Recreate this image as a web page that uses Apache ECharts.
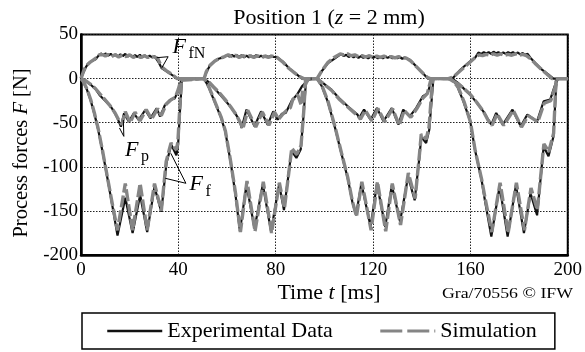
<!DOCTYPE html>
<html><head><meta charset="utf-8">
<script src="https://cdn.jsdelivr.net/npm/echarts@6/dist/echarts.min.js"></script>
<style>html,body{margin:0;padding:0;background:#fff}#c{width:585px;height:352px}</style>
</head><body><div id="c"></div>
<script>
// ---------- data (time t [ms], force F [N]) ----------
const xTicks = [0, 40, 80, 120, 160, 200];
const yTicks = [-200, -150, -100, -50, 0, 50];

const expFfN = [
  [0,0],[1,7],[2,13],[3,17],[4.5,20],[6,22],[7.2,26],[8.2,28.5],[9.2,26.5],[10.2,28.5],[11.2,26],[12.2,28],[13.2,25.5],[14.2,27.5],[15.2,25],[16.2,27.5],[17.2,25.5],[18.2,28],[19.2,25],[20.2,27],[21.2,24.5],[22.2,26.5],[23.2,24.5],[24.2,27],[25.2,24],[26.2,26.5],[27.2,24],[28.2,26],[29.2,24],[30.2,25.5],[31,24],[32,18],[33.1,12],[35,8.5],[37.5,4],[39.8,0],
  [50.6,0],[51.5,7],[52.8,14],[54.5,19],[56.5,22.5],[58.5,24],[60,26.5],[61,25],[62,27],[63,25],[64,26.5],[65,24.5],[66,26.5],[67,24],[68,26],[69,24],[70,26],[71,24.5],[72,26.5],[73,24.5],[74,26],[75,24],[76,26],[77,24.5],[78,26],[79,24.5],[80.4,24.5],[82.8,19.6],[85.4,12],[88,6.3],[90.8,0],
  [97,0],[98.9,8.3],[101.5,17.7],[104.2,22.6],[106.9,28],[108,25.5],[109,27],[110,24.5],[111,26.5],[112,24],[113,26],[114,23.5],[115,25.5],[116,23.5],[117,25],[118,23],[119,25],[120,23.5],[121,25],[122,23],[123,24.5],[124,23],[125,25],[126,23.5],[127,25],[128,23],[129,24.5],[130,23],[131,24.5],[132,22.5],[133,24],[135.1,21.5],[137.7,13.9],[140.4,6.4],[142.5,0],
  [152.5,0],[154,4],[155.9,10],[157.5,14],[159.9,19.6],[161.9,23.4],[163.3,29.5],[164.5,28],[165.5,30],[166.5,28.5],[167.5,30],[168.5,28],[169.5,30.5],[170.5,28.5],[171.5,30],[172.5,28],[173.5,29.5],[174.5,28],[175.5,30],[176.5,28.5],[177.5,30],[178.5,28],[179.5,29.5],[180.5,27.5],[181.5,29],[182.5,27],[183.5,28],[184.7,23.4],[186.7,17.7],[189.4,10.1],[192.1,4.5],[194.1,0],[200,0]
];
const simFfN = [
  [0,0],[1,8],[2,14],[3.5,18],[5,21],[6.5,24],[7.5,27],[9,27],[10,25.5],[11,27.5],[12.5,25],[14,27],[15.5,24.5],[17,26.5],[18.5,25],[20,27],[21.5,24],[23,26],[24.5,24],[26,26],[27.5,24],[29,25.5],[30.5,24],[31.5,23],[32.5,17],[33.5,12.5],[35.5,8],[37.5,4.5],[39.5,0],
  [50.6,0],[51.5,8],[53,15],[55,20],[57,23],[59,25],[60.5,27],[62,25],[63.5,26.5],[65,24],[66.5,26],[68,24.5],[69.5,26],[71,24],[72.5,26],[74,24],[75.5,25.5],[77,24],[78.5,25.5],[80.5,24],[83,18.5],[85.5,11.5],[88,6],[90,2],[91.5,0],
  [97,0],[99,9],[101.5,18.5],[104,24],[106.5,28],[108,27],[109.5,28],[111,26],[112.5,27],[114,25],[115.5,26],[117,24.5],[118.5,26],[120,24],[121.5,25.5],[123,24],[124.5,25.5],[126,24],[127.5,25],[129,23.5],[130.5,25],[132,23],[133.5,23.5],[135.5,20],[138,13],[140.5,6],[142.5,1],[143.5,0],
  [151,0],[153,2],[155.5,8],[158,14],[160,19],[162,24],[163.5,27],[165,26],[166.5,27.5],[168,26.5],[169.5,28],[171,26.5],[172.5,28],[174,26.5],[175.5,27.5],[177,26.5],[178.5,28],[180,26.5],[181.5,27.5],[183,26],[184.5,23],[186.5,17.5],[189,11],[191.5,5],[193.5,0],[200,0]
];
const expFp = [
  [0,0],[2,-3],[4,-7],[6,-12],[7.6,-18.6],[9.5,-24],[11.7,-29.9],[13.5,-37],[15,-45],[16.4,-54.5],[17.7,-39.4],[19.7,-48.8],[21.7,-39.4],[23.7,-46.9],[26.4,-35.6],[28.5,-45],[31.1,-33.7],[32.5,-43.2],[34.5,-29.9],[36.5,-24.3],[38.5,-22.4],[39.8,-14.9],[41.2,-1.6],[41.6,0],
  [50.6,0],[52.5,-4],[54,-9],[55.9,-14.4],[58,-21],[61.3,-31.4],[63.5,-40],[65.3,-48.4],[66,-56],[68,-35.2],[71.3,-54.1],[74,-37.1],[76.7,-52.2],[79,-37.1],[80.8,-46.6],[82.5,-40],[84.1,-39],[86.8,-23.9],[88.8,-18.2],[90.8,-8.8],[93.5,-1.2],[94,0],
  [97,0],[99,-4],[101,-8.5],[102.9,-12.6],[106,-22],[109.6,-31.4],[112,-37],[113.6,-40.8],[114.3,-44.6],[116.3,-35.2],[119,-46.6],[121.6,-33.4],[124.3,-48.4],[127.7,-33.4],[130.4,-52.2],[132.4,-35.2],[135.1,-42.8],[137.7,-33.4],[140.4,-20.2],[142.5,-16.4],[143.8,-3.2],[144.3,0],
  [152.5,0],[154.5,-4],[156.5,-9],[158,-13.5],[159.9,-18.2],[162.5,-27],[165.3,-37.1],[167,-45],[168.6,-52.2],[170.6,-39],[173.3,-52.2],[177.3,-35.2],[180.7,-54.1],[183.4,-40.8],[187.4,-48.4],[190.1,-25.7],[192.8,-23.8],[194.8,-7],[195.9,0],[200,0]
];
const simFp = [
  [0,0],[2,-2.5],[4,-6.5],[6,-11.5],[8,-18],[10,-24.5],[12,-31],[14,-39],[15.5,-47],[16.8,-52],[18.2,-37.5],[20.2,-50],[22.2,-38],[24.2,-48],[26.8,-35],[29,-46],[31.5,-34],[33,-42],[35,-29],[37,-24],[38.8,-21],[40,-12],[41,-2],[41.5,0],
  [50.6,0],[52.5,-3.5],[54.5,-9.5],[56.5,-15],[59,-23],[61.5,-32],[64,-42],[65.8,-52],[66.5,-57],[68.5,-36],[71.8,-55],[74.5,-38],[77.2,-53],[79.5,-38],[81.2,-46],[83,-40],[84.5,-36],[86,-33],[87,-24],[89,-18],[90.5,-30],[91,-15],[92.5,-5],[93.5,0],
  [97,0],[99,-4.5],[101,-9],[103,-13.5],[106,-23],[109.5,-32],[112,-38],[114,-43],[114.8,-46],[116.8,-36],[119.5,-48],[122,-34],[124.8,-49],[128,-34],[130.8,-53],[132.8,-36],[135.5,-44],[138,-34],[140.5,-22],[142.3,-17],[143.5,-4],[144,0],
  [151,0],[153,-3],[155,-6],[157,-10.5],[160,-18],[162.5,-26.5],[165.5,-38],[167.2,-47],[168.9,-53],[171,-40],[173.7,-53],[177.6,-36],[181,-55],[183.7,-42],[187.7,-49],[190.3,-28],[193,-25],[195,-8],[196,0],[200,0]
];
const expFf = [
  [0,0],[1,-4],[2.5,-13],[4,-25],[5.5,-40],[7,-57],[9,-85],[11,-115],[13,-146],[15,-178],[18.2,-135],[21.2,-175],[24.3,-132],[27.2,-174],[30.2,-123],[33,-151],[35.1,-96],[37.1,-75],[39.2,-87],[39.9,-75],[40.7,-35],[41.5,0],
  [50.6,0],[52.5,-10],[55,-27],[57.5,-44],[59.3,-60],[61.5,-95],[63.5,-132],[65.3,-173],[68,-120],[71.3,-170],[74.7,-120],[78.1,-173],[81.4,-120],[83.4,-149],[86.5,-82],[88.5,-90],[90.3,-80],[91.5,-40],[92.5,0],
  [97,0],[99,-9],[101.5,-27],[104.5,-57],[107,-85],[109.6,-113],[111.5,-140],[113,-155],[115.2,-119],[119,-168],[121.6,-119],[125,-168],[127.7,-121],[131.1,-162],[134.4,-111],[137.1,-138],[139.1,-88],[139.8,-66],[141.8,-73],[143.1,-58],[144.2,-20],[144.8,0],
  [152.5,0],[154.5,-8],[157,-25],[159.9,-48],[161.9,-81],[164.6,-115],[165.9,-137],[168.6,-179],[172,-122],[175.3,-179],[178.7,-121],[182,-175],[184.7,-130],[187.4,-155],[190.1,-77],[192.1,-88],[194.1,-66],[195.4,0],[200,0]
];
const simFf = [
  [0,0],[1,-3.5],[2.5,-12],[4,-24],[5.5,-39],[7,-56],[9,-84],[11,-114],[13,-144],[15,-172],[18.2,-119],[21.2,-172],[24.3,-119],[27.2,-172],[30.2,-119],[33,-150],[35,-94],[37,-73],[39.2,-81],[39.8,-72],[40.6,-33],[41.3,0],
  [50.6,0],[52.5,-9],[55,-26],[57.5,-43],[59.3,-59],[61.5,-94],[63.5,-130],[65.5,-174],[68.2,-116],[71.5,-173],[74.9,-117],[78.3,-175],[81.5,-118],[83.6,-147],[86.6,-79],[88.6,-86],[90.4,-76],[91.5,-38],[92.3,0],
  [97,0],[99,-8],[101.5,-26],[104.5,-56],[107,-84],[109.6,-112],[111.5,-139],[113.2,-156],[115.4,-117],[119.2,-172],[121.8,-117],[125.2,-173],[127.9,-119],[131.3,-166],[134.5,-107],[137.3,-136],[139.1,-85],[139.8,-63],[141.8,-69],[143,-55],[144,-18],[144.5,0],
  [151,0],[153,-3],[155,-10],[157.5,-27],[160,-49],[162,-82],[164.6,-114],[166,-135],[168.8,-174],[172.2,-118],[175.5,-175],[178.9,-118],[182.2,-172],[184.9,-124],[187.5,-149],[190.2,-74],[192.2,-83],[194.2,-62],[195.2,0],[200,0]
];
// leader lines of the annotations, in data coordinates [t, F]
const leaderFfN = [[[35.8,24.8],[31.1,23.7]],[[35.8,24.8],[33.1,11.7]]];
const leaderFp  = [[[17.6,-65.5],[15.8,-56]],[[17.6,-65.5],[17.4,-47]]];
const leaderFf  = [[[43.1,-118.7],[36.9,-84.7]],[[43.1,-118.7],[34.6,-113]]];
// label anchors (data coords of the left/top of the "F" glyph)
const labelFfN = {at:[38,44], sub:'fN'};
const labelFp  = {at:[18.5,-73], sub:'p'};
const labelFf  = {at:[45,-112], sub:'f'};

// ---------- chart ----------
const SERIF = '"Liberation Serif","Times New Roman",serif';
const chart = echarts.init(document.getElementById('c'), null, {renderer:'canvas'});
const expStyle = {color:'#111', width:2.2, type:'solid'};
const simStyle = {color:'#858585', width:3.4, type:[12,3]};
function mk(name, data, style, z){
  return {name, type:'line', data, symbol:'none', showSymbol:false, animation:false, z,
    lineStyle:style, itemStyle:{color:style.color}, emphasis:{disabled:true}};
}
const leaders = [...leaderFfN, ...leaderFp, ...leaderFf].map(p => [{coord:p[0]},{coord:p[1]}]);
const series = [
  mk('Experimental Data', expFfN, expStyle, 3),
  mk('Experimental Data', expFp, expStyle, 3),
  mk('Experimental Data', expFf, expStyle, 3),
  mk('Simulation', simFfN, simStyle, 4),
  mk('Simulation', simFp, simStyle, 4),
  mk('Simulation', simFf, simStyle, 4)
];
series[5].markLine = {silent:true, animation:false, symbol:['none','none'], label:{show:false},
  lineStyle:{color:'#000', width:1, type:'solid'}, emphasis:{disabled:true}, data:leaders};

const gridLine = {show:true, lineStyle:{color:'#222', width:1, type:[1.5,1.5]}};
chart.setOption({
  animation:false,
  backgroundColor:'#fff',
  grid:{left:81, right:7, top:34.5, bottom:97, show:true, borderColor:'#000', borderWidth:2},
  xAxis:{type:'value', min:xTicks[0], max:xTicks[xTicks.length-1], interval:40,
    axisLine:{show:true, onZero:false, lineStyle:{color:'#000', width:2.5}},
    axisTick:{show:false}, splitLine:gridLine,
    axisLabel:{color:'#000', fontFamily:SERIF, fontSize:19, margin:6}},
  yAxis:{type:'value', min:yTicks[0], max:yTicks[yTicks.length-1], interval:50,
    axisLine:{show:true, onZero:false, lineStyle:{color:'#000', width:2.5}},
    axisTick:{show:false}, splitLine:gridLine,
    axisLabel:{color:'#000', fontFamily:SERIF, fontSize:19, margin:3}},
  legend:{left:82, top:313, padding:[7,18,7,24], itemGap:46, itemWidth:55, itemHeight:22,
    borderColor:'#000', borderWidth:1.5, borderRadius:0, selectedMode:false,
    textStyle:{fontFamily:SERIF, fontSize:22, color:'#000', padding:[0,0,0,0]},
    data:[{name:'Experimental Data', itemStyle:{opacity:0, borderWidth:0}, lineStyle:{width:2.5, color:'#111', type:'solid'}},
          {name:'Simulation', itemStyle:{opacity:0, borderWidth:0}, lineStyle:{width:3, color:'#858585', type:[22,5]}}]},
  series
});

function txt(x, y, text, rich, extra){
  return {type:'text', x, y, silent:true, style:Object.assign({text, rich, fill:'#000',
    align:'center', verticalAlign:'middle'}, extra||{})};
}
const richMain = {a:{fontFamily:SERIF, fontSize:22, fill:'#000'}, i:{fontFamily:SERIF, fontSize:22, fontStyle:'italic', fill:'#000'}};
const richY = {a:{fontFamily:SERIF, fontSize:20.5, fill:'#000'}, i:{fontFamily:SERIF, fontSize:20.5, fontStyle:'italic', fill:'#000'}};
const graphics = [
  txt(329, 18, '{a|Position 1 (}{i|z}{a| = 2 mm)}', richMain),
  txt(329, 293, '{a|Time }{i|t}{a| [ms]}', richMain),
  Object.assign(txt(22, 153, '{a|Process forces }{i|F}{a| [N]}', richY), {rotation:Math.PI/2}),
  Object.assign(txt(573, 294, 'Gra/70556 © IFW', null, {align:'right', fontFamily:SERIF, fontSize:14}), {scaleX:1.27})
];
[labelFfN, labelFp, labelFf].forEach(l => {
  const p = chart.convertToPixel({gridIndex:0}, l.at);
  graphics.push({type:'text', x:p[0]-1, y:p[1]-4, silent:true, z:10,
    style:{text:'F', fill:'#000', fontFamily:SERIF, fontSize:22, fontStyle:'italic', align:'left', verticalAlign:'top'}});
  graphics.push({type:'text', x:p[0]+15, y:p[1]+6, silent:true, z:10,
    style:{text:l.sub, fill:'#000', fontFamily:SERIF, fontSize:16, align:'left', verticalAlign:'top'}});
});
chart.setOption({graphic:graphics});
</script></body></html>
